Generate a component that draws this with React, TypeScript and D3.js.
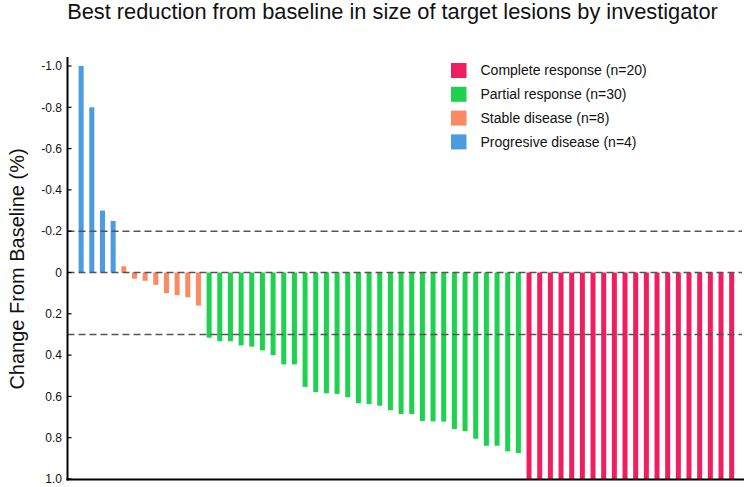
import React from "react";
import * as d3 from "d3";

const progressive = [-1.0, -0.8, -0.3, -0.25];
const stable = [-0.03, 0.03, 0.04, 0.06, 0.1, 0.11, 0.12, 0.16];
const partial = [
  0.316, 0.333, 0.333, 0.353, 0.359, 0.377, 0.4, 0.445, 0.445, 0.554,
  0.579, 0.585, 0.588, 0.604, 0.633, 0.637, 0.645, 0.667, 0.685, 0.685,
  0.719, 0.721, 0.722, 0.758, 0.768, 0.805, 0.839, 0.839, 0.866, 0.874,
];
const complete = Array.from({ length: 20 }, () => 1.0);

const groupNames = ["Progressive", "Stable", "Partial", "Complete"];
const groupColors = ["#4A9BE2", "#FA8A62", "#1ED250", "#F01E5E"];
const legendLabels = [
  "Complete response (n=20)",
  "Partial response (n=30)",
  "Stable disease (n=8)",
  "Progresive disease (n=4)",
];
const legendColors = ["#F01E5E", "#1ED250", "#FA8A62", "#4A9BE2"];
const yTicks = [-1.0, -0.8, -0.6, -0.4, -0.2, 0, 0.2, 0.4, 0.6, 0.8, 1.0];
const refLines = [-0.2, 0, 0.3];

const title = "Best reduction from baseline in size of target lesions by investigator";
const yLabel = "Change From Baseline (%)";

export default function App() {
  const W = 750;
  const H = 487;
  const font = "'Liberation Sans', Arial, sans-serif";

  const data: { v: number; g: number }[] = [];
  [progressive, stable, partial, complete].forEach((arr, g) =>
    arr.forEach((v) => data.push({ v, g }))
  );

  const axisX = 67.5;
  const axisY = 479.5;
  const y = d3.scaleLinear().domain([-1, 1]).range([66, 479]);
  const x = d3
    .scaleBand<number>()
    .domain(data.map((_, i) => i))
    .range([73.3, 739.5])
    .paddingInner(0.53)
    .paddingOuter(0.5);

  const fmt = (t: number) => (t === 0 ? "0" : t.toFixed(1));

  return (
    <svg
      width={W}
      height={H}
      style={{ position: "absolute", left: 0, top: 0 }}
      fontFamily={font}
    >
      <rect width={W} height={H} fill="#fff" />
      <text x={392.5} y={19} fontSize={21.8} textAnchor="middle" fill="#111">
        {title}
      </text>
      {data.map((d, i) => {
        const y0 = y(0);
        const y1 = y(d.v);
        return (
          <rect
            key={i}
            x={x(i)}
            width={x.bandwidth()}
            y={Math.min(y0, y1)}
            height={Math.abs(y1 - y0)}
            fill={groupColors[d.g]}
          />
        );
      })}
      {refLines.map((r) => (
        <line
          key={r}
          x1={axisX}
          x2={742}
          y1={y(r)}
          y2={y(r)}
          stroke="#555"
          strokeWidth={1.5}
          strokeDasharray="7,4"
        />
      ))}
      <line x1={axisX} x2={axisX} y1={57} y2={axisY + 1} stroke="#000" strokeWidth={2} />
      <line x1={axisX - 1} x2={744} y1={axisY} y2={axisY} stroke="#000" strokeWidth={2} />
      {yTicks.map((t) => (
        <g key={t}>
          <line x1={axisX} x2={axisX + 4} y1={y(t)} y2={y(t)} stroke="#000" strokeWidth={1.2} />
          <text
            x={62}
            y={y(t)}
            dy="0.35em"
            fontSize={12}
            textAnchor="end"
            fill="#111"
          >
            {fmt(t)}
          </text>
        </g>
      ))}
      <text
        transform={`translate(23.5,269) rotate(-90)`}
        fontSize={20}
        textAnchor="middle"
        fill="#111"
      >
        {yLabel}
      </text>
      {legendLabels.map((l, i) => {
        const top = 63 + i * 23.8;
        return (
          <g key={l}>
            <rect x={451} y={top} width={15.5} height={15} fill={legendColors[i]} />
            <text x={480.5} y={top + 7.5} dy="0.35em" fontSize={14} fill="#111">
              {l}
            </text>
          </g>
        );
      })}
    </svg>
  );
}
